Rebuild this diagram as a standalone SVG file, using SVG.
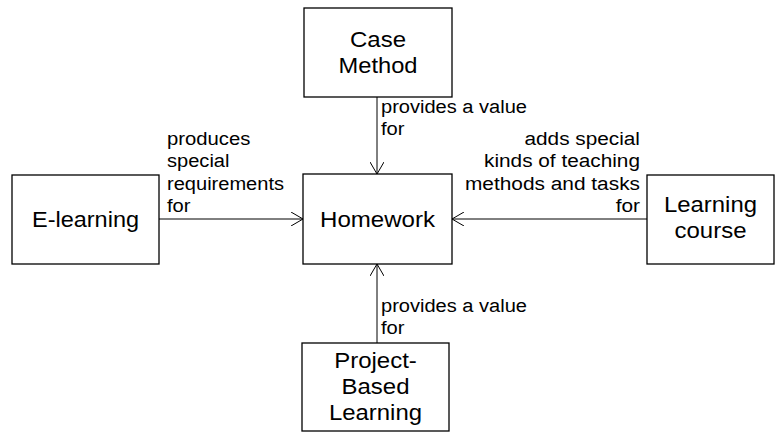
<svg xmlns="http://www.w3.org/2000/svg" width="784" height="432" viewBox="0 0 784 432">
<defs>
<marker id="arr" viewBox="0 0 12 14" refX="12" refY="7" markerWidth="12" markerHeight="14" markerUnits="userSpaceOnUse" orient="auto">
<path d="M0,0 L12,7 L0,14" fill="none" stroke="#000" stroke-width="1"/>
</marker>
<style>
.box{fill:#fff;stroke:#000;stroke-width:1.3}
.node{font-family:"Liberation Sans",Arial,sans-serif;font-size:22px;fill:#000;text-anchor:middle}
.lbl{font-family:"Liberation Sans",Arial,sans-serif;font-size:18px;fill:#000}
.edge{stroke:#000;stroke-width:1;fill:none}
</style>
</defs>
<rect width="784" height="432" fill="#fff"/>
<g id="connectors">
<line class="edge" x1="377" y1="97" x2="377" y2="174" marker-end="url(#arr)"/>
<line class="edge" x1="159" y1="219" x2="303" y2="219" marker-end="url(#arr)"/>
<line class="edge" x1="647" y1="219" x2="452" y2="219" marker-end="url(#arr)"/>
<line class="edge" x1="377" y1="343" x2="377" y2="264" marker-end="url(#arr)"/>
<text class="lbl" x="381" y="113" textLength="146" lengthAdjust="spacingAndGlyphs">provides a value</text>
<text class="lbl" x="381" y="135" textLength="23.5" lengthAdjust="spacingAndGlyphs">for</text>
<text class="lbl" x="167" y="145" textLength="83.4" lengthAdjust="spacingAndGlyphs">produces</text>
<text class="lbl" x="167" y="167" textLength="62.5" lengthAdjust="spacingAndGlyphs">special</text>
<text class="lbl" x="167" y="190" textLength="117" lengthAdjust="spacingAndGlyphs">requirements</text>
<text class="lbl" x="167" y="212" textLength="23.5" lengthAdjust="spacingAndGlyphs">for</text>
<text class="lbl" x="524.5" y="145" textLength="115.5" lengthAdjust="spacingAndGlyphs">adds special</text>
<text class="lbl" x="484" y="167" textLength="156" lengthAdjust="spacingAndGlyphs">kinds of teaching</text>
<text class="lbl" x="465" y="190" textLength="175" lengthAdjust="spacingAndGlyphs">methods and tasks</text>
<text class="lbl" x="615.7" y="212" textLength="24.3" lengthAdjust="spacingAndGlyphs">for</text>
<text class="lbl" x="381" y="312" textLength="146" lengthAdjust="spacingAndGlyphs">provides a value</text>
<text class="lbl" x="381" y="334" textLength="23.5" lengthAdjust="spacingAndGlyphs">for</text>
</g>
<g id="case-method">
<rect class="box" x="304" y="8" width="148" height="89"/>
<text class="node" x="378" y="47" textLength="56" lengthAdjust="spacingAndGlyphs">Case</text>
<text class="node" x="378" y="73" textLength="79" lengthAdjust="spacingAndGlyphs">Method</text>
</g>
<g id="homework">
<rect class="box" x="303" y="174" width="149" height="90"/>
<text class="node" x="377.5" y="227" textLength="115" lengthAdjust="spacingAndGlyphs">Homework</text>
</g>
<g id="e-learning">
<rect class="box" x="12" y="175" width="147" height="89"/>
<text class="node" x="85.5" y="227" textLength="107" lengthAdjust="spacingAndGlyphs">E-learning</text>
</g>
<g id="learning-course">
<rect class="box" x="647" y="175" width="127" height="89"/>
<text class="node" x="710.5" y="212" textLength="93" lengthAdjust="spacingAndGlyphs">Learning</text>
<text class="node" x="710.5" y="238" textLength="72" lengthAdjust="spacingAndGlyphs">course</text>
</g>
<g id="project-based-learning">
<rect class="box" x="302" y="343" width="147" height="88"/>
<text class="node" x="375.5" y="368" textLength="82.7" lengthAdjust="spacingAndGlyphs">Project-</text>
<text class="node" x="375.5" y="394" textLength="68" lengthAdjust="spacingAndGlyphs">Based</text>
<text class="node" x="375.5" y="420" textLength="93" lengthAdjust="spacingAndGlyphs">Learning</text>
</g>
</svg>
